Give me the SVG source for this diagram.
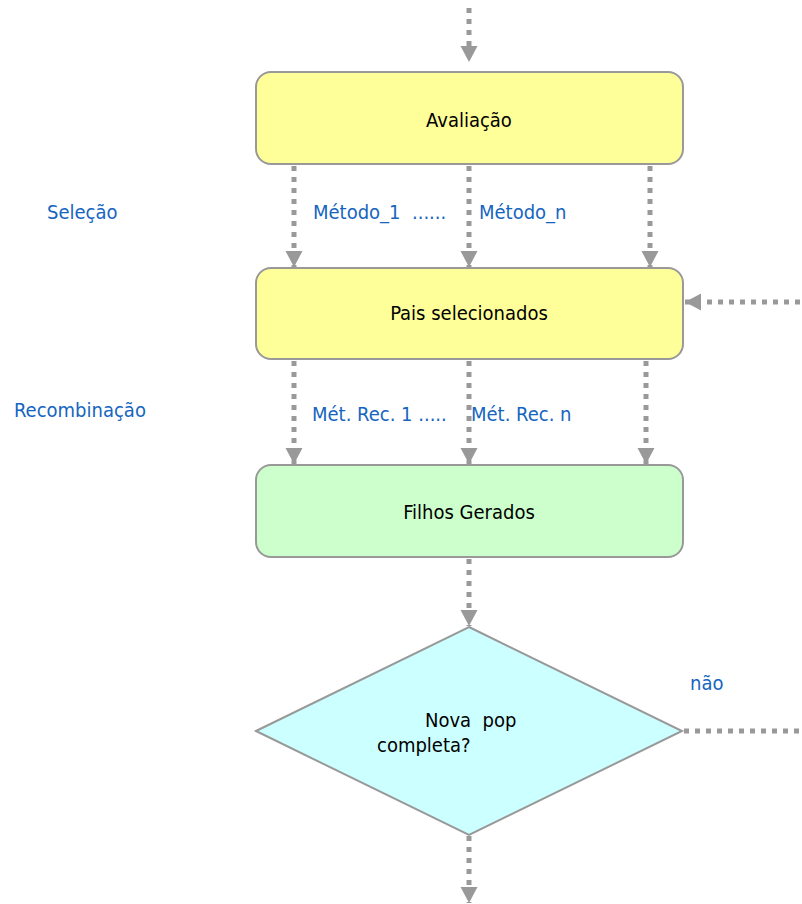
<svg xmlns="http://www.w3.org/2000/svg" width="802" height="904" viewBox="0 0 802 904">
<style>
.box{stroke:#999;stroke-width:2}
.t{font-family:"DejaVu Sans Condensed","DejaVu Sans","Liberation Sans",sans-serif;font-stretch:condensed;font-size:20px;fill:#000}
.b{font-family:"DejaVu Sans Condensed","DejaVu Sans","Liberation Sans",sans-serif;font-stretch:condensed;font-size:20px;fill:#1565C0}
.c{fill:none;stroke:#999;stroke-width:5;stroke-dasharray:5 6}
</style>
<defs>
<marker id="ah" markerWidth="18" markerHeight="18" refX="16" refY="8.5" orient="auto" markerUnits="userSpaceOnUse">
<path d="M0,0 L16,8.5 L0,17 Z" fill="#999"/>
</marker>
</defs>
<rect width="802" height="904" fill="#fff"/>
<g id="connectors">
<line class="c" x1="469" y1="8" x2="469" y2="62" marker-end="url(#ah)"/>
<line class="c" x1="294" y1="166" x2="294" y2="267" marker-end="url(#ah)"/>
<line class="c" x1="469" y1="166" x2="469" y2="267" marker-end="url(#ah)"/>
<line class="c" x1="650" y1="166" x2="650" y2="267" marker-end="url(#ah)"/>
<line class="c" x1="800" y1="302" x2="685" y2="302" marker-end="url(#ah)"/>
<line class="c" x1="294" y1="361" x2="294" y2="464" marker-end="url(#ah)"/>
<line class="c" x1="469" y1="361" x2="469" y2="464" marker-end="url(#ah)"/>
<line class="c" x1="646" y1="361" x2="646" y2="464" marker-end="url(#ah)"/>
<line class="c" x1="469" y1="559" x2="469" y2="626" marker-end="url(#ah)"/>
<line class="c" x1="684" y1="731" x2="802" y2="731"/>
<line class="c" x1="469" y1="836" x2="469" y2="903" marker-end="url(#ah)"/>
</g>
<g id="avaliacao">
<rect class="box" x="256" y="72" width="427" height="92" rx="15" fill="#ffff99"/>
<text class="t" x="469" y="127" text-anchor="middle">Avaliação</text>
</g>
<g id="pais">
<rect class="box" x="256" y="268" width="427" height="91" rx="15" fill="#ffff99"/>
<text class="t" x="469" y="320" text-anchor="middle">Pais selecionados</text>
</g>
<g id="filhos">
<rect class="box" x="256" y="465" width="427" height="92" rx="15" fill="#ccffcc"/>
<text class="t" x="469" y="519" text-anchor="middle">Filhos Gerados</text>
</g>
<g id="decisao">
<polygon class="box" points="469,627 682,731 469,835 256,731" fill="#ccffff"/>
<text class="t" xml:space="preserve" x="425" y="727">Nova  pop</text>
<text class="t" x="377" y="752">completa?</text>
</g>
<g id="labels">
<text class="b" x="47" y="219">Seleção</text>
<text class="b" x="14" y="417">Recombinação</text>
<text class="b" xml:space="preserve" x="313" y="219">Método_1  ......</text>
<text class="b" x="479" y="219">Método_n</text>
<text class="b" xml:space="preserve" x="312" y="421">Mét. Rec. 1 .....</text>
<text class="b" x="471" y="421">Mét. Rec. n</text>
<text class="b" x="690" y="690">não</text>
</g>
</svg>
